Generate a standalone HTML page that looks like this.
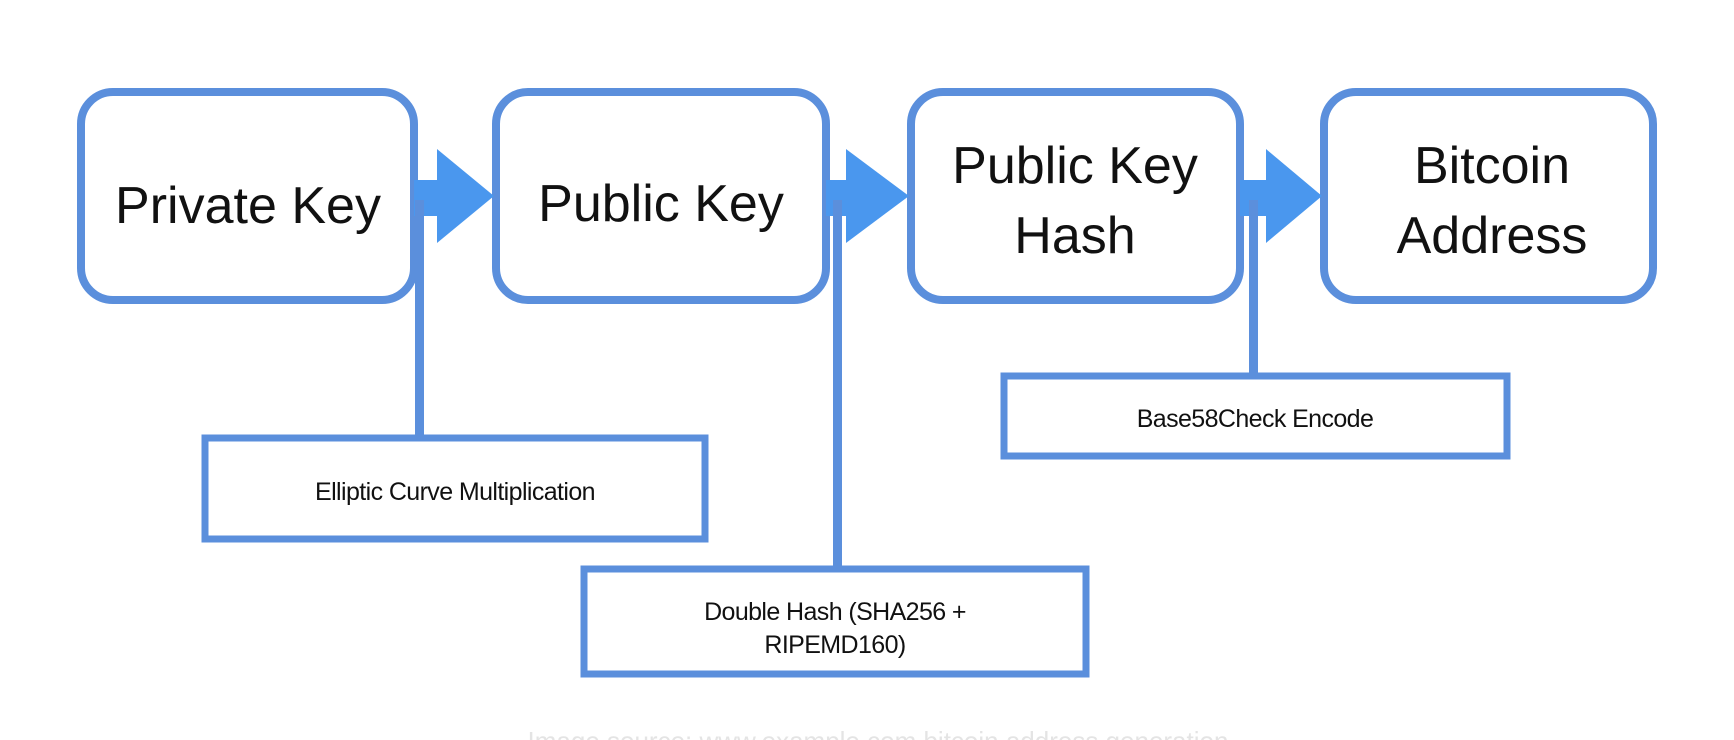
<!DOCTYPE html>
<html><head><meta charset="utf-8"><style>
html,body{margin:0;padding:0;background:#fff;}
svg{display:block;}
text{font-family:"Liberation Sans",Arial,sans-serif;fill:#111;}
</style></head><body>
<svg width="1734" height="740" viewBox="0 0 1734 740" xmlns="http://www.w3.org/2000/svg">
<rect width="1734" height="740" fill="#fff"/>
<g fill="none" stroke="#5b8fdc" stroke-width="8">
<rect x="81" y="92" width="333" height="208" rx="32"/>
<rect x="496" y="92" width="330" height="208" rx="32"/>
<rect x="911" y="92" width="329" height="208" rx="32"/>
<rect x="1324" y="92" width="329" height="208" rx="32"/>
</g>
<g fill="#4a97ee">
<rect x="414" y="180" width="26" height="36"/>
<polygon points="437,149 494,196 437,243"/>
<rect x="826" y="180" width="24" height="36"/>
<polygon points="846,149 909,196 846,243"/>
<rect x="1240" y="180" width="30" height="36"/>
<polygon points="1266,149 1322,196 1266,243"/>
</g>
<g fill="#5b8fdc">
<rect x="415" y="200" width="9" height="238"/>
<rect x="833" y="200" width="9" height="370"/>
<rect x="1249" y="200" width="9" height="176"/>
</g>
<g fill="#fff" stroke="#5b8fdc" stroke-width="7">
<rect x="205" y="438" width="500" height="101"/>
<rect x="584" y="569" width="502" height="105"/>
<rect x="1004" y="376" width="503" height="80"/>
</g>
<g font-size="52" text-anchor="middle">
<text x="248" y="223">Private Key</text>
<text x="661" y="221">Public Key</text>
<text x="1075" y="183">Public Key</text>
<text x="1075" y="253">Hash</text>
<text x="1492" y="183">Bitcoin</text>
<text x="1492" y="253">Address</text>
</g>
<g font-size="25" text-anchor="middle" letter-spacing="-0.6">
<text x="455" y="500">Elliptic Curve Multiplication</text>
<text x="835" y="620">Double Hash (SHA256 +</text>
<text x="835" y="653">RIPEMD160)</text>
<text x="1255" y="427">Base58Check Encode</text>
</g>
<text x="878" y="750" font-size="26" text-anchor="middle" style="fill:#e4e4e4">Image source: www.example.com bitcoin address generation</text>
</svg>
</body></html>
